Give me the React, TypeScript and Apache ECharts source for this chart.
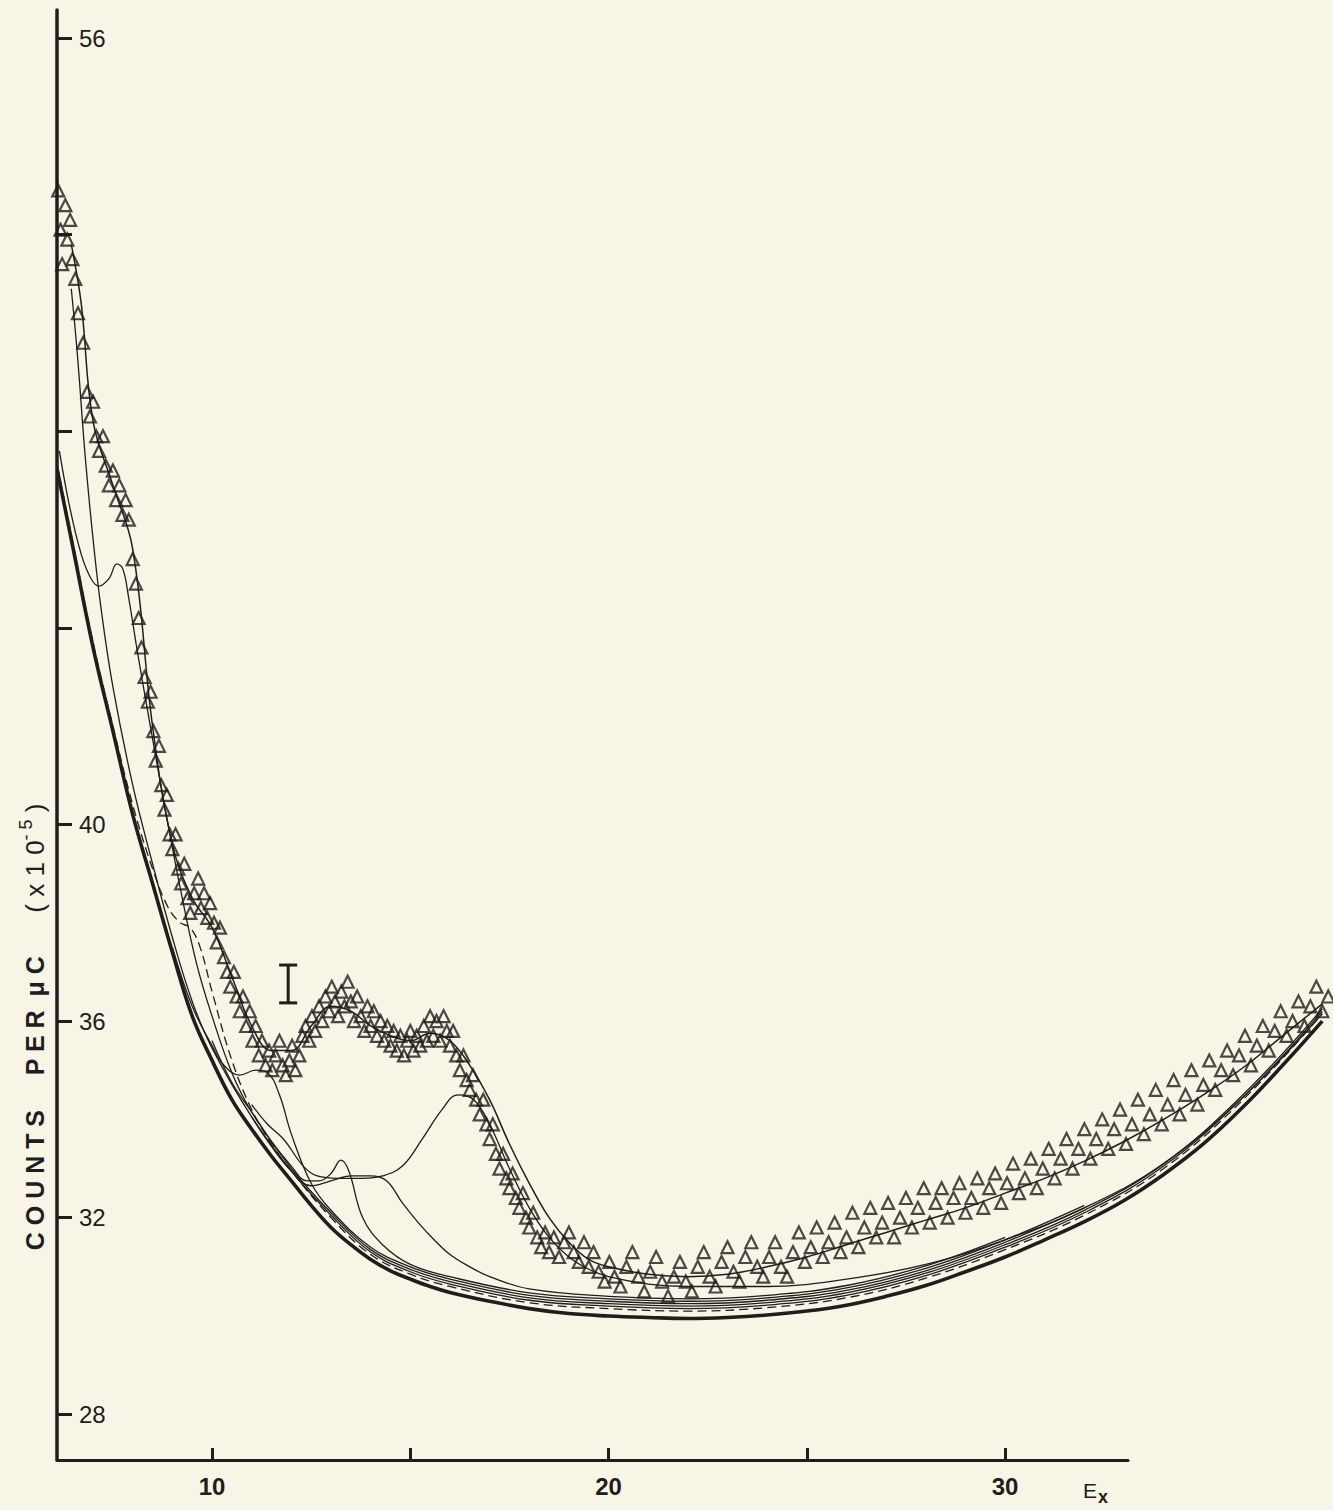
import React, { useEffect, useRef } from "react";
import * as echarts from "echarts";

const W = 1333;
const H = 1510;
const INK = "#231c1c";
const FONT = "Liberation Sans, Arial, sans-serif";

const yTickValues = [28, 32, 36, 40, 44, 48, 52, 56];
const yLabelValues = [28, 32, 36, 40, 56];
const xTickValues = [10, 15, 20, 25, 30];
const xLabelValues = [10, 20, 30];

// heavy background curve
const background = [
  [6.1, 47.2], [6.5, 45.6], [7.0, 43.6], [7.5, 41.9], [8.0, 40.2], [8.5, 38.8], [9.0, 37.4],
  [9.5, 36.1], [10.0, 35.2], [10.5, 34.4], [11.0, 33.8], [11.5, 33.25], [12.0, 32.75], [12.5, 32.25],
  [13.0, 31.8], [13.5, 31.45], [14.0, 31.15], [14.5, 30.92], [15.0, 30.75], [15.5, 30.6], [16.0, 30.48],
  [17.0, 30.3], [18.0, 30.15], [19.0, 30.05], [20.0, 30.0], [21.0, 29.97], [22.0, 29.95], [23.0, 29.97],
  [24.0, 30.02], [25.0, 30.1], [26.0, 30.22], [27.0, 30.4], [28.0, 30.62], [29.0, 30.9], [30.0, 31.2],
  [31.0, 31.55], [32.0, 31.92], [33.0, 32.35], [34.0, 32.88], [35.0, 33.5], [36.0, 34.25], [37.0, 35.1],
  [38.0, 36.0]
];

// thin component curves
const comp1 = [
  [6.45, 50.9], [6.6, 49.6], [6.8, 47.5], [7.0, 45.8], [7.2, 44.4], [7.5, 42.8], [8.0, 40.8], [8.5, 39.2],
  [9.0, 37.7], [9.5, 36.4], [10, 35.45], [11, 34.05], [12, 32.95], [13, 32.05], [14, 31.3], [15, 30.9],
  [16, 30.65], [18, 30.32], [20, 30.2], [22, 30.15], [24, 30.22], [26, 30.42], [28, 30.82], [30, 31.4],
  [32, 32.1], [34, 33.05], [36, 34.45], [38, 36.2]
];
const comp2 = [
  [6.15, 47.6], [6.4, 46.5], [6.7, 45.5], [6.95, 45.0], [7.15, 44.85], [7.4, 45.0], [7.6, 45.3], [7.75, 45.2],
  [7.9, 44.6], [8.1, 43.6], [8.4, 42.2], [8.8, 40.4], [9.2, 38.7], [9.6, 37.2], [10, 36.1], [10.5, 34.95],
  [11, 34.15], [12, 33.0], [13, 32.1], [14, 31.35], [15, 30.95], [16, 30.7], [18, 30.37], [20, 30.25],
  [22, 30.2], [24, 30.27], [26, 30.47], [28, 30.87], [30, 31.45], [32, 32.15], [34, 33.1], [36, 34.5], [38, 36.25]
];
const comp3 = [
  [6.1, 47.3], [6.5, 45.7], [7, 43.7], [7.5, 42.0], [8, 40.4], [8.5, 39.1], [8.9, 38.3], [9.2, 38.0],
  [9.45, 37.9], [9.7, 37.5], [10, 36.6], [10.5, 35.2], [11, 34.2], [11.5, 33.5], [12, 32.95], [13, 32.0],
  [14, 31.25], [15, 30.85], [16, 30.6], [18, 30.27], [20, 30.15], [22, 30.1], [24, 30.17], [26, 30.37],
  [28, 30.77], [30, 31.35], [32, 32.05], [34, 33.0], [36, 34.4], [38, 36.15]
];
const comp4 = [
  [9.0, 37.5], [9.5, 36.3], [10.0, 35.5], [10.3, 35.1], [10.7, 34.9], [11.1, 35.0], [11.4, 34.95],
  [11.7, 34.5], [12.0, 33.7], [12.5, 32.7], [13, 32.15], [14, 31.4], [15, 31.0], [16, 30.75], [18, 30.42],
  [20, 30.3], [22, 30.25], [24, 30.32], [26, 30.52], [28, 30.92], [30, 31.5], [32, 32.2]
];
const comp5 = [
  [10.0, 35.6], [10.5, 34.75], [11.0, 34.15], [11.5, 33.55], [12.0, 33.05], [12.4, 32.75], [12.7, 32.75],
  [13.0, 32.9], [13.25, 33.17], [13.45, 32.95], [13.8, 32.0], [14.3, 31.45], [15, 31.05], [16, 30.8],
  [18, 30.47], [20, 30.35], [22, 30.3], [24, 30.37], [26, 30.57], [28, 30.97], [30, 31.55], [32, 32.25]
];
const comp6 = [
  [11.0, 34.05], [11.5, 33.45], [12.0, 32.95], [12.5, 32.65], [13, 32.75], [13.5, 32.85], [14, 32.85],
  [14.4, 32.75], [14.8, 32.3], [15.2, 31.9], [15.6, 31.55], [16, 31.25], [16.5, 31.0], [17, 30.8],
  [18, 30.55], [20, 30.4], [22, 30.35], [24, 30.42], [26, 30.62], [28, 31.02], [30, 31.6]
];
const comp7 = [
  [11.0, 34.3], [11.4, 33.9], [11.8, 33.6], [12.3, 33.05], [12.65, 32.85], [13.2, 32.8], [13.8, 32.8],
  [14.3, 32.85], [14.8, 33.05], [15.3, 33.6], [15.8, 34.2], [16.2, 34.5], [16.6, 34.4], [17.0, 33.9],
  [17.5, 33.0], [18.0, 32.2], [18.5, 31.6], [19.0, 31.2], [19.5, 30.95], [20, 30.8], [21, 30.65],
  [22, 30.6], [24, 30.6], [26, 30.75], [28, 31.05], [30, 31.55], [32, 32.2], [34, 33.1], [36, 34.45], [38, 36.15]
];

// total fit through the measurements
const fitLine = [
  [6.45, 51.8], [6.7, 50.6], [7.0, 48.2], [7.5, 46.9], [8.0, 45.6], [8.5, 42.0], [9.0, 39.6], [9.5, 38.5],
  [10, 37.9], [10.5, 36.9], [11, 35.9], [11.5, 35.4], [12, 35.4], [12.5, 35.9], [13, 36.3], [13.5, 36.2],
  [14, 35.9], [14.5, 35.7], [15, 35.6], [15.5, 35.75], [16, 35.6], [16.5, 35.1], [17, 34.4], [17.5, 33.5],
  [18, 32.7], [18.5, 32.0], [19, 31.5], [19.5, 31.15], [20, 31.0], [21, 30.85], [22, 30.8], [23, 30.85],
  [24, 31.0], [25, 31.2], [26, 31.45], [27, 31.7], [28, 31.95], [29, 32.2], [30, 32.5], [31, 32.8],
  [32, 33.15], [33, 33.55], [34, 34.0], [35, 34.5], [36, 35.05], [37, 35.7], [38, 36.35]
];

// measured points (triangles)
const measured = [
  [6.02, 52.4], [6.08, 51.7], [6.12, 52.9], [6.18, 52.1], [6.22, 51.4], [6.3, 52.6], [6.35, 51.9], [6.42, 52.3],
  [6.48, 51.5], [6.55, 51.1], [6.62, 50.4], [6.75, 49.8], [6.85, 48.8], [6.92, 48.3], [7.0, 48.6], [7.08, 47.9],
  [7.15, 47.6], [7.25, 47.9], [7.32, 47.3], [7.4, 46.9], [7.5, 47.2], [7.58, 46.6], [7.66, 46.9], [7.74, 46.3],
  [7.82, 46.6], [7.9, 46.2], [8.0, 45.4], [8.08, 44.9], [8.15, 44.2], [8.22, 43.6], [8.3, 43.0], [8.38, 42.5],
  [8.45, 42.7], [8.52, 41.9], [8.58, 41.3], [8.66, 41.6], [8.72, 40.8], [8.8, 40.3], [8.86, 40.6], [8.93, 39.8],
  [9.0, 39.5], [9.08, 39.8], [9.15, 39.1], [9.22, 38.8], [9.3, 39.2], [9.38, 38.5], [9.45, 38.2], [9.55, 38.6],
  [9.65, 38.9], [9.72, 38.3], [9.8, 38.6], [9.88, 38.1], [9.95, 38.4], [10.05, 38.0], [10.12, 37.6], [10.2, 37.9],
  [10.3, 37.3], [10.38, 37.0], [10.46, 36.7], [10.55, 37.0], [10.62, 36.5], [10.7, 36.2], [10.78, 36.5], [10.86, 35.9],
  [10.95, 36.2], [11.02, 35.6], [11.1, 35.9], [11.18, 35.3], [11.26, 35.6], [11.35, 35.1], [11.44, 35.4], [11.52, 35.0],
  [11.6, 35.3], [11.7, 35.6], [11.78, 35.1], [11.86, 34.9], [11.95, 35.2], [12.02, 35.5], [12.1, 35.0], [12.2, 35.3],
  [12.28, 35.7], [12.36, 35.9], [12.45, 35.6], [12.52, 36.1], [12.6, 35.8], [12.7, 36.3], [12.78, 36.0], [12.86, 36.5],
  [12.95, 36.2], [13.02, 36.7], [13.1, 36.4], [13.18, 36.1], [13.26, 36.6], [13.34, 36.3], [13.42, 36.8], [13.5, 36.4],
  [13.58, 36.0], [13.66, 36.5], [13.75, 36.1], [13.84, 35.8], [13.92, 36.3], [14.0, 35.9], [14.08, 36.2], [14.16, 35.7],
  [14.25, 36.0], [14.34, 35.6], [14.42, 35.9], [14.5, 35.5], [14.58, 35.8], [14.66, 35.4], [14.75, 35.7], [14.84, 35.3],
  [14.92, 35.6], [15.0, 35.8], [15.08, 35.4], [15.16, 35.7], [15.25, 35.5], [15.34, 35.9], [15.42, 35.6], [15.5, 36.1],
  [15.58, 35.7], [15.66, 36.0], [15.75, 35.6], [15.84, 36.1], [15.92, 35.8], [16.0, 35.5], [16.08, 35.8], [16.16, 35.3],
  [16.25, 35.0], [16.34, 35.3], [16.42, 34.8], [16.5, 34.6], [16.58, 34.9], [16.66, 34.4], [16.75, 34.1], [16.84, 34.4],
  [16.92, 33.9], [17.0, 33.6], [17.08, 33.9], [17.16, 33.3], [17.25, 33.0], [17.34, 33.3], [17.42, 32.8], [17.5, 32.6],
  [17.58, 32.9], [17.66, 32.4], [17.75, 32.2], [17.84, 32.5], [17.92, 32.0], [18.0, 31.8], [18.1, 32.1], [18.2, 31.6],
  [18.3, 31.4], [18.4, 31.7], [18.5, 31.3], [18.62, 31.6], [18.75, 31.2], [18.88, 31.5], [19.0, 31.7], [19.12, 31.3],
  [19.25, 31.1], [19.38, 31.5], [19.5, 31.0], [19.62, 31.3], [19.75, 30.9], [19.9, 30.7], [20.02, 31.1], [20.15, 30.8],
  [20.3, 30.6], [20.45, 31.0], [20.6, 31.3], [20.75, 30.8], [20.9, 30.5], [21.05, 30.9], [21.2, 31.2], [21.35, 30.7],
  [21.5, 30.4], [21.65, 30.8], [21.8, 31.1], [21.95, 30.7], [22.1, 30.5], [22.25, 31.0], [22.4, 31.3], [22.55, 30.8],
  [22.7, 30.6], [22.85, 31.1], [23.0, 31.4], [23.15, 30.9], [23.3, 30.7], [23.45, 31.2], [23.6, 31.5], [23.75, 31.0],
  [23.9, 30.8], [24.05, 31.2], [24.2, 31.5], [24.35, 31.0], [24.5, 30.8], [24.65, 31.3], [24.8, 31.7], [24.95, 31.1],
  [25.1, 31.4], [25.25, 31.8], [25.4, 31.2], [25.55, 31.5], [25.7, 31.9], [25.85, 31.3], [26.0, 31.6], [26.15, 32.1],
  [26.3, 31.4], [26.45, 31.8], [26.6, 32.2], [26.75, 31.6], [26.9, 31.9], [27.05, 32.3], [27.2, 31.6], [27.35, 32.0],
  [27.5, 32.4], [27.65, 31.8], [27.8, 32.2], [27.95, 32.6], [28.1, 31.9], [28.25, 32.3], [28.4, 32.6], [28.55, 32.0],
  [28.7, 32.4], [28.85, 32.7], [29.0, 32.1], [29.15, 32.4], [29.3, 32.8], [29.45, 32.2], [29.6, 32.6], [29.75, 32.9],
  [29.9, 32.3], [30.05, 32.7], [30.2, 33.1], [30.35, 32.5], [30.5, 32.8], [30.65, 33.2], [30.8, 32.6], [30.95, 33.0],
  [31.1, 33.4], [31.25, 32.8], [31.4, 33.2], [31.55, 33.6], [31.7, 33.0], [31.85, 33.4], [32.0, 33.8], [32.15, 33.2],
  [32.3, 33.6], [32.45, 34.0], [32.6, 33.4], [32.75, 33.8], [32.9, 34.2], [33.05, 33.5], [33.2, 33.9], [33.35, 34.4],
  [33.5, 33.7], [33.65, 34.1], [33.8, 34.6], [33.95, 33.9], [34.1, 34.3], [34.25, 34.8], [34.4, 34.1], [34.55, 34.5],
  [34.7, 35.0], [34.85, 34.3], [35.0, 34.7], [35.15, 35.2], [35.3, 34.6], [35.45, 35.0], [35.6, 35.4], [35.75, 34.9],
  [35.9, 35.3], [36.05, 35.7], [36.2, 35.1], [36.35, 35.5], [36.5, 35.9], [36.65, 35.4], [36.8, 35.8], [36.95, 36.2],
  [37.1, 35.7], [37.25, 36.0], [37.4, 36.4], [37.55, 35.9], [37.7, 36.3], [37.85, 36.7], [38.0, 36.2], [38.15, 36.5]
];

// representative error bar: [x, low, high]
const errorBar = [[11.92, 36.37, 37.14]];

export default function App() {
  const ref = useRef<HTMLDivElement>(null);
  useEffect(() => {
    const chart = echarts.init(ref.current!, null, { renderer: "svg" });
    const thin = (data: number[][], w = 1.3, dashed = false) => ({
      type: "line",
      data,
      xAxisIndex: 0,
      yAxisIndex: 0,
      smooth: 0.4,
      showSymbol: false,
      silent: true,
      lineStyle: { color: INK, width: w, type: dashed ? [9, 5] : "solid" },
      z: 3
    });
    const yRange = { min: 27.07, max: 56.57 };
    chart.setOption({
      animation: false,
      backgroundColor: "#f6f5e6",
      textStyle: { fontFamily: FONT },
      grid: [
        { left: 57, top: 10, right: 0, bottom: 50 },
        { left: 57, top: 10, right: 205, bottom: 50 }
      ],
      xAxis: [
        { type: "value", gridIndex: 0, min: 6.09, max: 38.27, show: false },
        {
          type: "value",
          gridIndex: 1,
          min: 6.09,
          max: 33.1,
          axisLine: { show: true, lineStyle: { color: INK, width: 3 } },
          splitLine: { show: false },
          axisTick: {
            show: true,
            inside: true,
            length: 12,
            lineStyle: { color: INK, width: 3 },
            customValues: xTickValues
          },
          axisLabel: {
            show: true,
            customValues: xLabelValues,
            margin: 14,
            color: INK,
            fontSize: 24,
            fontWeight: "bold",
            fontFamily: FONT
          },
          name: "{e|E}{s|x}",
          nameLocation: "end",
          nameGap: -45,
          nameTextStyle: {
            verticalAlign: "top",
            padding: [14, 0, 0, 0],
            rich: {
              e: { fontSize: 21, color: INK, fontFamily: FONT },
              s: { fontSize: 18, color: INK, fontWeight: "bold", padding: [14, 0, 0, 1], fontFamily: FONT }
            }
          }
        }
      ],
      yAxis: [
        { type: "value", gridIndex: 0, ...yRange, show: false },
        {
          type: "value",
          gridIndex: 1,
          ...yRange,
          axisLine: { show: true, lineStyle: { color: INK, width: 3.5 } },
          splitLine: { show: false },
          axisTick: {
            show: true,
            inside: true,
            length: 15,
            lineStyle: { color: INK, width: 3 },
            customValues: yTickValues
          },
          axisLabel: {
            show: true,
            inside: true,
            margin: 22,
            customValues: yLabelValues,
            color: INK,
            fontSize: 24,
            fontFamily: FONT
          }
        }
      ],
      graphic: [
        {
          type: "text",
          x: 35,
          y: 1027,
          rotation: Math.PI / 2,
          style: {
            text: "{b|C O U N T S     P E R  μ C}{n|      ( x 1 0}{sup|- 5}{n| )}",
            align: "center",
            verticalAlign: "middle",
            rich: {
              b: { fontSize: 25, fontWeight: "bold", fill: INK, fontFamily: FONT },
              n: { fontSize: 26, fill: INK, fontFamily: FONT },
              sup: { fontSize: 18, fill: INK, padding: [0, 0, 18, 0], fontFamily: FONT }
            }
          }
        }
      ],
      series: [
        { ...thin(background, 3.6), z: 4 },
        thin(comp1),
        thin(comp2),
        thin(comp3, 1.3, true),
        thin(comp4),
        thin(comp5),
        thin(comp6),
        thin(comp7),
        thin(fitLine, 1.5),
        {
          type: "scatter",
          xAxisIndex: 0,
          yAxisIndex: 0,
          data: measured,
          symbol: "triangle",
          symbolSize: 12,
          itemStyle: { color: "rgba(0,0,0,0)", borderColor: INK, borderWidth: 2.2 },
          z: 5
        },
        {
          type: "custom",
          xAxisIndex: 0,
          yAxisIndex: 0,
          data: errorBar,
          renderItem: (params: any, api: any) => {
            const x = api.value(0);
            const lo = api.coord([x, api.value(1)]);
            const hi = api.coord([x, api.value(2)]);
            const st = { stroke: INK, lineWidth: 3 };
            return {
              type: "group",
              children: [
                { type: "line", shape: { x1: lo[0], y1: lo[1], x2: hi[0], y2: hi[1] }, style: st },
                { type: "line", shape: { x1: lo[0] - 9, y1: lo[1], x2: lo[0] + 9, y2: lo[1] }, style: st },
                { type: "line", shape: { x1: hi[0] - 9, y1: hi[1], x2: hi[0] + 9, y2: hi[1] }, style: st }
              ]
            };
          },
          z: 6
        }
      ]
    });
    return () => chart.dispose();
  }, []);
  return (
    <div
      ref={ref}
      style={{ position: "fixed", left: 0, top: 0, width: W, height: H }}
    />
  );
}
